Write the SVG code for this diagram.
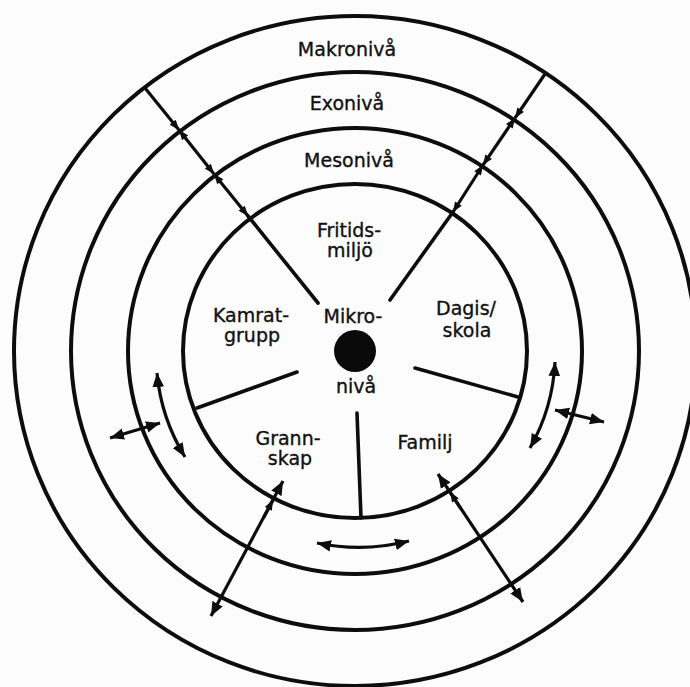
<svg xmlns="http://www.w3.org/2000/svg" width="690" height="687" viewBox="0 0 690 687">
<defs>
<style>
.ring{fill:none;stroke:#0d0d0d;stroke-width:4}
.spoke{stroke:#0d0d0d;stroke-width:3.6;stroke-linecap:round}
.con{fill:none;stroke:#0d0d0d;stroke-width:3.2}
.lbl{font-family:"DejaVu Sans","Liberation Sans",sans-serif;font-size:19px;fill:#111;stroke:#111;stroke-width:0.35;text-anchor:middle}
</style>
<marker id="as" viewBox="0 0 10 8" refX="10" refY="4" markerWidth="11" markerHeight="8" markerUnits="userSpaceOnUse" orient="auto-start-reverse">
<path d="M0,0 L10,4 L0,8 z" fill="#0d0d0d"/>
</marker>
<marker id="al" viewBox="0 0 12 10" refX="12" refY="5" markerWidth="14" markerHeight="12" markerUnits="userSpaceOnUse" orient="auto-start-reverse">
<path d="M0,0 L12,5 L0,10 z" fill="#0d0d0d"/>
</marker>
</defs>
<rect width="690" height="687" fill="#fcfcfc"/>

<g id="makro">
<ellipse class="ring" cx="355" cy="351" rx="341" ry="335"/>
<text class="lbl" x="347" y="56">Makronivå</text>
</g>
<g id="exo">
<ellipse class="ring" cx="355" cy="351" rx="284" ry="279"/>
<text class="lbl" x="347" y="110">Exonivå</text>
</g>
<g id="meso">
<ellipse class="ring" cx="355" cy="351" rx="227" ry="223"/>
<text class="lbl" x="349" y="167">Mesonivå</text>
</g>
<g id="mikro">
<ellipse class="ring" cx="355" cy="351" rx="172" ry="167"/>
<circle cx="355" cy="351" r="21" fill="#0a0a0a"/>
<text class="lbl" x="353" y="323">Mikro-</text>
<text class="lbl" x="356" y="393">nivå</text>
<line class="spoke" x1="248" y1="216" x2="318" y2="303"/>
<line class="spoke" x1="453" y1="212" x2="390" y2="300"/>
<line class="spoke" x1="297" y1="372" x2="197" y2="408"/>
<line class="spoke" x1="415" y1="368" x2="518" y2="397"/>
<line class="spoke" x1="357" y1="413" x2="361" y2="518"/>
</g>
<g id="fritidsmiljo">
<text class="lbl" x="349" y="237">Fritids-</text>
<text class="lbl" x="350" y="257">miljö</text>
</g>
<g id="kamratgrupp">
<text class="lbl" x="251" y="322">Kamrat-</text>
<text class="lbl" x="252" y="342">grupp</text>
</g>
<g id="dagisskola">
<text class="lbl" x="466" y="315">Dagis/</text>
<text class="lbl" x="467" y="337">skola</text>
</g>
<g id="grannskap">
<text class="lbl" x="288" y="445">Grann-</text>
<text class="lbl" x="290" y="465">skap</text>
</g>
<g id="familj">
<text class="lbl" x="425" y="449">Familj</text>
</g>

<g id="connectors">
<line class="con" x1="145" y1="88" x2="179" y2="130" marker-end="url(#as)"/>
<line class="con" x1="179" y1="130" x2="214" y2="174" marker-start="url(#as)" marker-end="url(#as)"/>
<line class="con" x1="214" y1="174" x2="248" y2="216" marker-start="url(#as)" marker-end="url(#as)"/>
<line class="con" x1="545" y1="74" x2="515" y2="118" marker-end="url(#as)"/>
<line class="con" x1="515" y1="118" x2="483" y2="165" marker-start="url(#as)" marker-end="url(#as)"/>
<line class="con" x1="483" y1="165" x2="453" y2="212" marker-start="url(#as)" marker-end="url(#as)"/>
<line class="con" x1="283" y1="481" x2="211" y2="616" marker-start="url(#al)" marker-end="url(#al)"/>
<line class="con" x1="263.6" y1="517.7" x2="273" y2="500" marker-end="url(#as)"/>
<line class="con" x1="438" y1="474" x2="523" y2="602" marker-start="url(#al)" marker-end="url(#al)"/>
<line class="con" x1="461" y1="509" x2="450" y2="492" marker-end="url(#as)"/>
<path class="con" d="M157,373 A200,196 0 0,0 185,457" marker-start="url(#al)" marker-end="url(#al)"/>
<path class="con" d="M555,362 A200,196 0 0,1 530,448" marker-start="url(#al)" marker-end="url(#al)"/>
<path class="con" d="M317,543 A200,196 0 0,0 409,541" marker-start="url(#al)" marker-end="url(#al)"/>
<line class="con" x1="110" y1="438" x2="160" y2="423" marker-start="url(#al)" marker-end="url(#al)"/>
<line class="con" x1="555" y1="410" x2="604" y2="422" marker-start="url(#al)" marker-end="url(#al)"/>
</g>
</svg>
